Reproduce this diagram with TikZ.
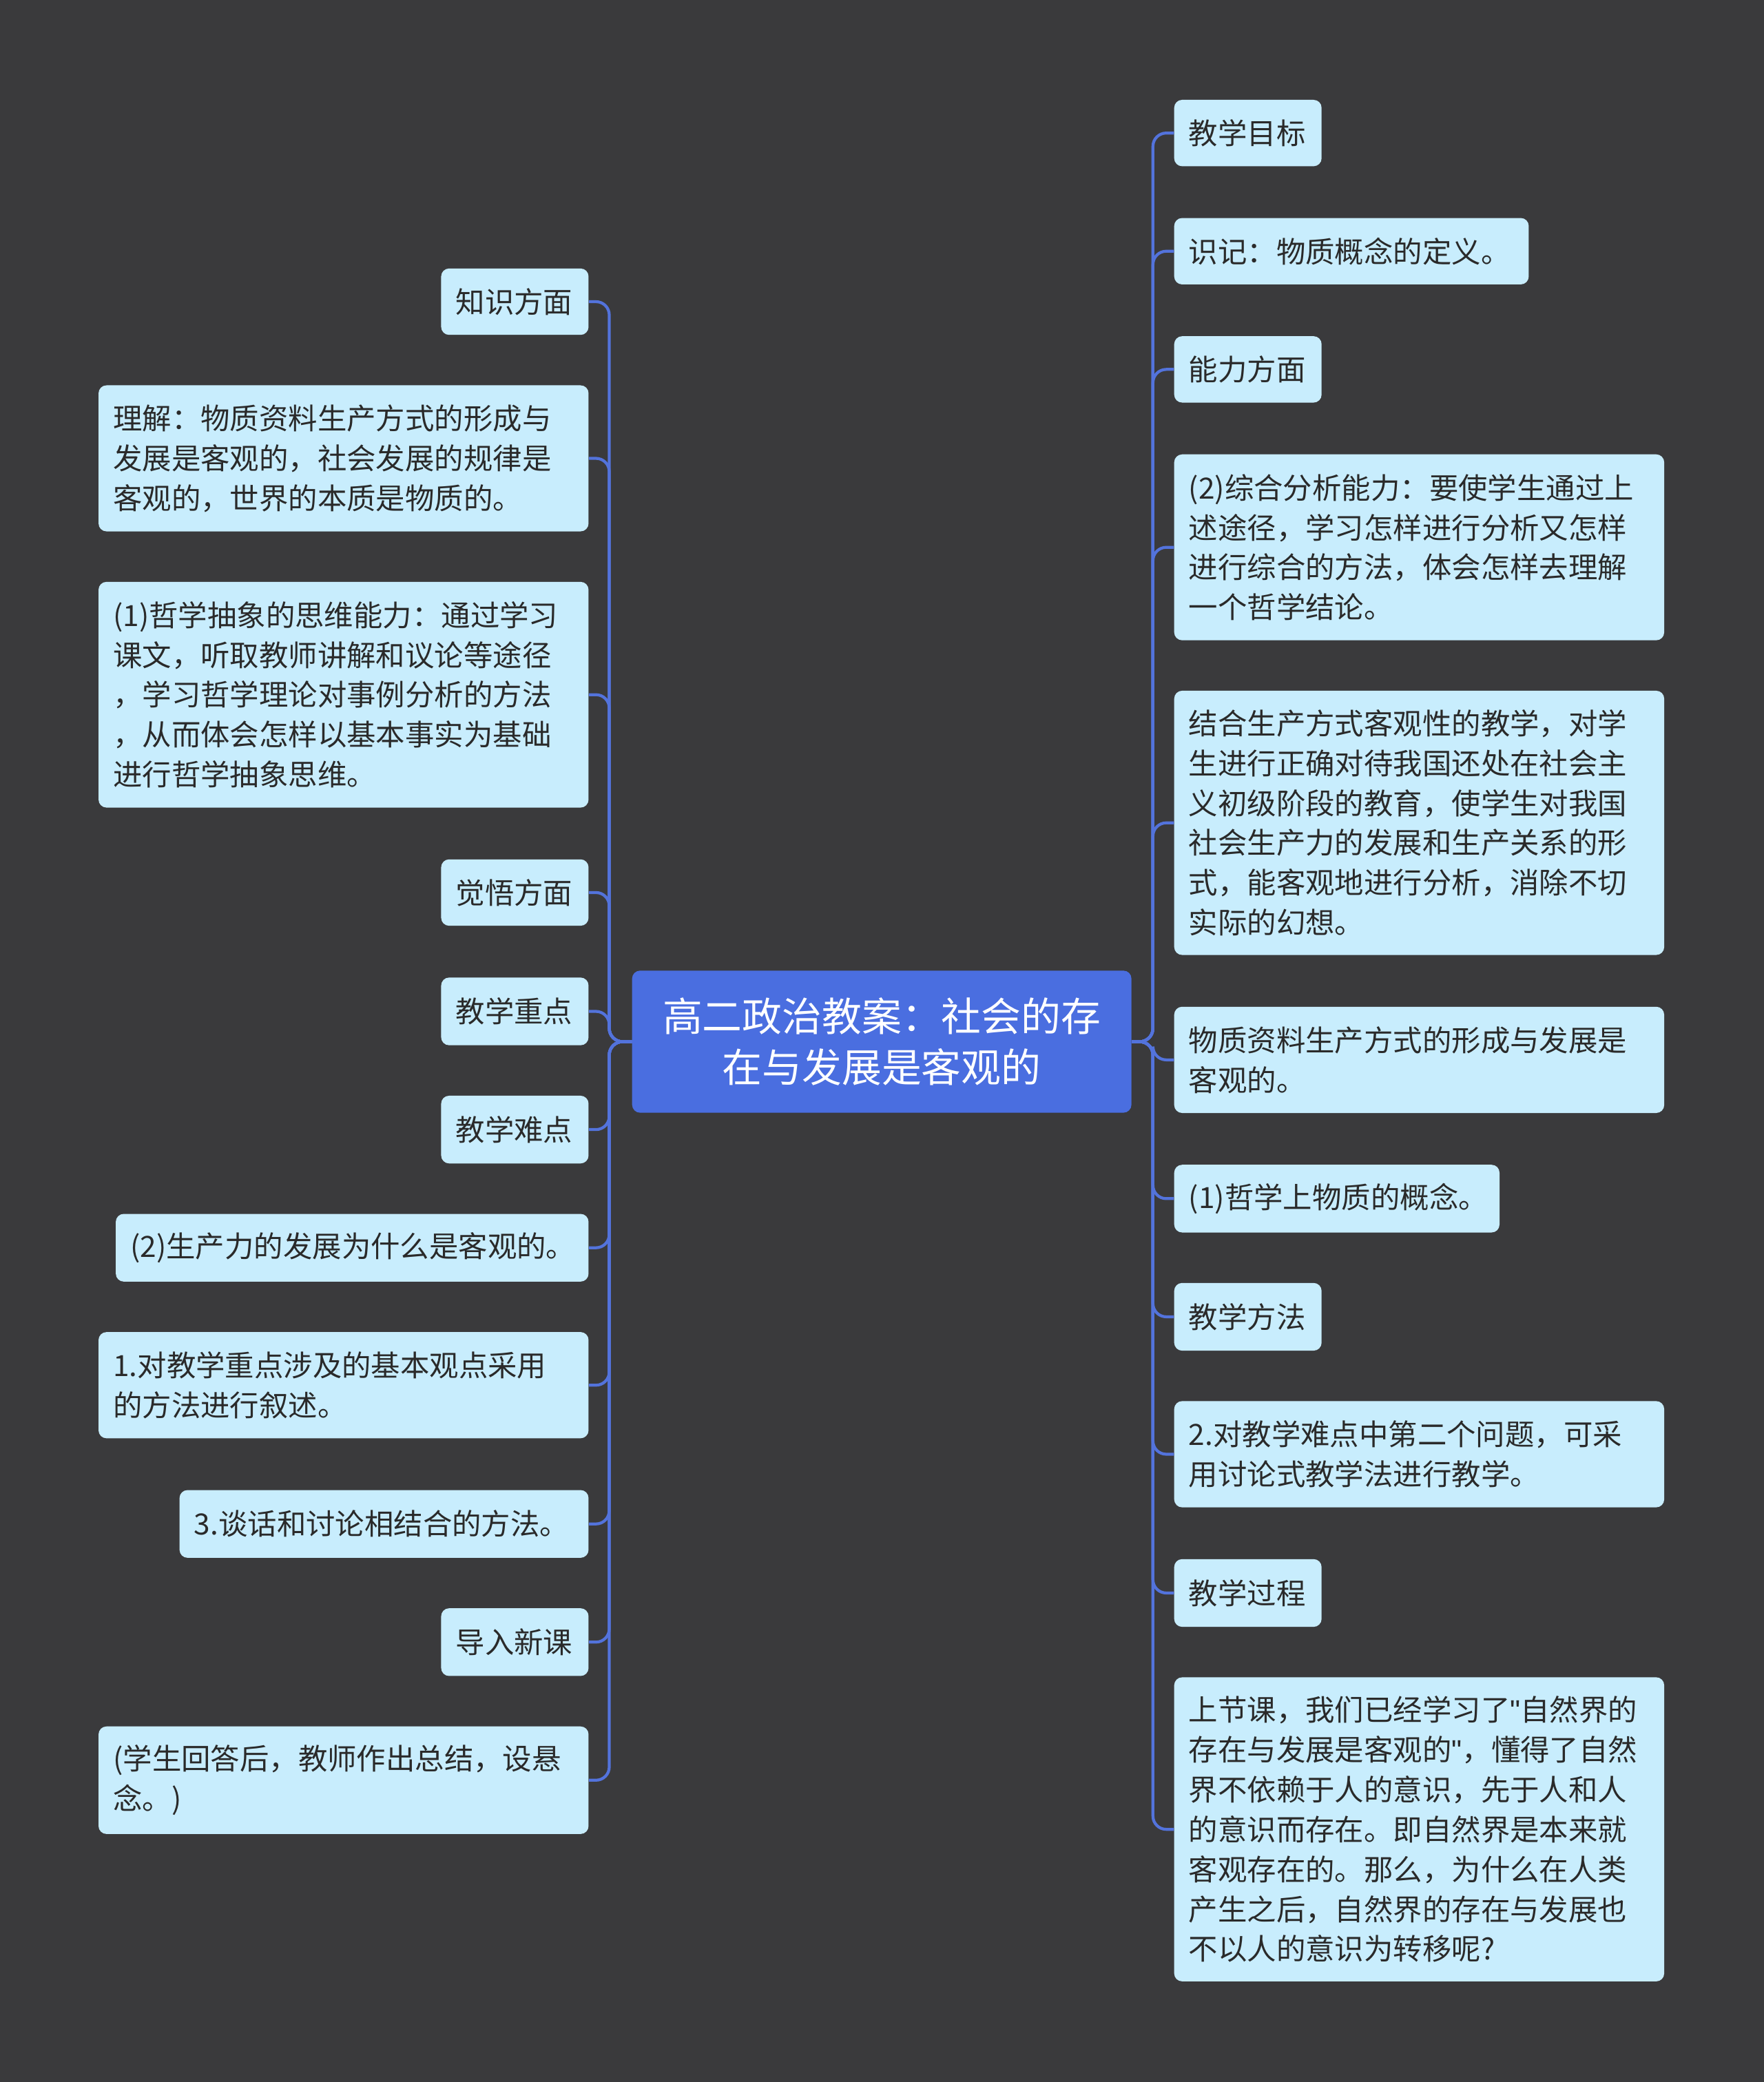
\documentclass[tikz,border=0pt]{standalone}
\usepackage{fontspec}
\setmainfont{Noto Sans CJK SC}
\newfontfamily\qfont{Liberation Sans}
\newcommand\qq{{\qfont\symbol{34}}}
\definecolor{bg}{HTML}{3A3A3C}
\definecolor{nodefill}{HTML}{C8EDFD}
\definecolor{ctr}{HTML}{4A6EE0}
\definecolor{ln}{HTML}{5373DC}
\definecolor{txt}{HTML}{2A2A2A}
\tikzset{
 box/.style={fill=nodefill,rounded corners=6pt,anchor=north west,inner xsep=11pt,inner ysep=0pt,align=left,text=txt,font=\fontsize{22}{30}\selectfont},
 conn/.style={draw=ln,line width=2.2pt,rounded corners=10pt},
}
\newcommand\bx[6]{%
 \pgfmathsetmacro\bw{#4-#2}\pgfmathsetmacro\bh{#5-#3}\pgfmathsetmacro\tw{#4-#2-22}%
 \node[box,minimum width=\bw pt,minimum height=\bh pt,text width=\tw pt] (#1) at (#2pt,-#3pt) {#6};}
\begin{document}
\begin{tikzpicture}[x=1pt,y=1pt]
\useasboundingbox (0,0) rectangle (1328,-1568);
\fill[bg] (-5,5) rectangle (1335,-1575);
\node[fill=ctr,rounded corners=6pt,minimum width=376pt,minimum height=107pt,text=white,align=center,font=\fontsize{30}{38}\selectfont,inner sep=0pt] (c) at (664,-784.5) {高二政治教案：社会的存\\在与发展是客观的};
% left
\bx{l1}{332}{202}{443}{252}{知识方面}
\bx{l2}{74}{290}{443}{400}{理解：物质资料生产方式的形成与\\发展是客观的，社会发展的规律是\\客观的，世界的本质是物质的。}
\bx{l3}{74}{438}{443}{608}{(1)哲学抽象的思维能力：通过学习\\课文，听取教师讲解和议论等途径\\，学习哲学理论对事例分析的方法\\，从而体会怎样以基本事实为基础\\进行哲学抽象思维。}
\bx{l4}{332}{647}{443}{697}{觉悟方面}
\bx{l5}{332}{736}{443}{787}{教学重点}
\bx{l6}{332}{825}{443}{876}{教学难点}
\bx{l7}{87}{914}{443}{965}{(2)生产力的发展为什么是客观的。}
\bx{l8}{74}{1003}{443}{1083}{1.对教学重点涉及的基本观点采用\\的方法进行叙述。}
\bx{l9}{135}{1122}{443}{1173}{3.谈话和讨论相结合的方法。}
\bx{l10}{332}{1211}{443}{1262}{导入新课}
\bx{l11}{74}{1300}{443}{1381}{(学生回答后，教师作出总结，设悬\\念。)}
% right
\bx{r1}{884}{75}{995}{125}{教学目标}
\bx{r2}{884}{164}{1151}{214}{识记：物质概念的定义。}
\bx{r3}{884}{253}{995}{303}{能力方面}
\bx{r4}{884}{342}{1253}{482}{(2)综合分析能力：要使学生通过上\\述途径，学习怎样进行分析又怎样\\进行综合的方法，体会怎样去理解\\一个哲学结论。}
\bx{r5}{884}{520}{1253}{719}{结合生产方式客观性的教学，对学\\生进行正确对待我国还处在社会主\\义初级阶段的教育，使学生对我国\\社会生产力的发展和生产关系的形\\式，能客观地进行分析，消除不切\\实际的幻想。}
\bx{r6}{884}{758}{1253}{838}{物质资料生产方式的形成与发展是\\客观的。}
\bx{r7}{884}{877}{1129}{928}{(1)哲学上物质的概念。}
\bx{r8}{884}{966}{995}{1017}{教学方法}
\bx{r9}{884}{1055}{1253}{1135}{2.对教学难点中第二个问题，可采\\用讨论式教学法进行教学。}
\bx{r10}{884}{1174}{995}{1225}{教学过程}
\bx{r11}{884}{1263}{1253}{1492}{上节课，我们已经学习了\qq 自然界的\\存在与发展是客观的\qq ，懂得了自然\\界不依赖于人的意识，先于人和人\\的意识而存在。即自然界是本来就\\客观存在的。那么，为什么在人类\\产生之后，自然界的存在与发展也\\不以人的意识为转移呢?}
\foreach \n in {l1,l2,l3,l4,l5,l6,l7,l8,l9,l10,l11}
  \draw[conn] (c.west) -- ++(-17,0) |- (\n.east);
\foreach \n in {r1,r2,r3,r4,r5,r6,r7,r8,r9,r10,r11}
  \draw[conn] (c.east) -- ++(16,0) |- (\n.west);
\end{tikzpicture}
\end{document}
